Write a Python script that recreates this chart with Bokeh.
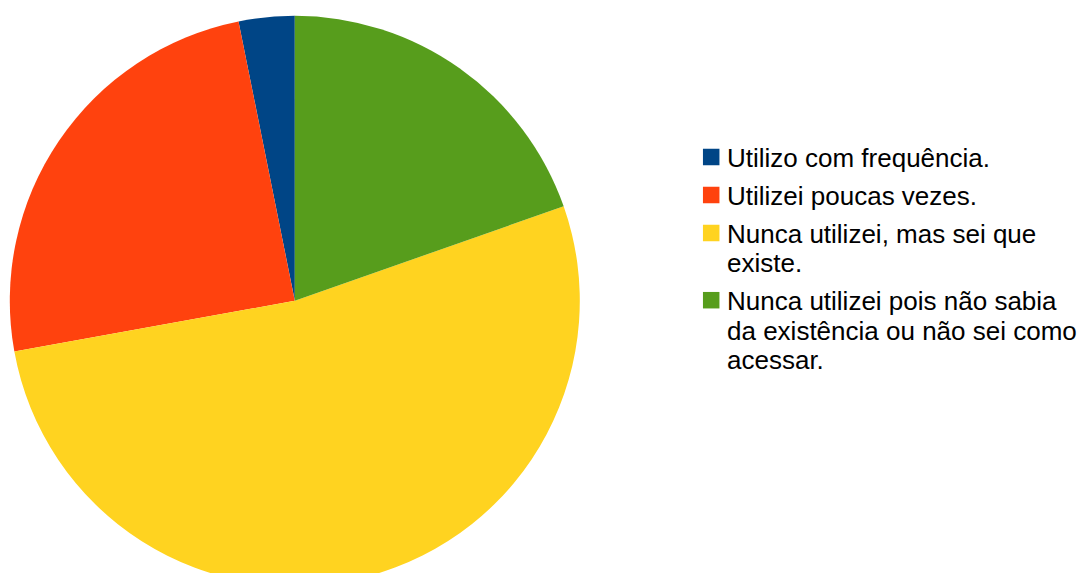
import math
from bokeh.plotting import figure
from bokeh.models import Range1d, ColumnDataSource
from bokeh.core.properties import value
from bokeh.embed import file_html
from bokeh.resources import INLINE

# ---- data ----
categories = [
    "Utilizo com frequência.",
    "Utilizei poucas vezes.",
    "Nunca utilizei, mas sei que\nexiste.",
    "Nunca utilizei pois não sabia\nda existência ou não sei como\nacessar.",
]
counts = [5, 39, 83, 31]
colors = ["#004586", "#ff420e", "#ffd320", "#579d1c"]

# ---- figure: data units equal screen pixels (y measured upward from figure bottom) ----
W, H = 1077, 573
p = figure(width=W, height=H, output_backend="svg", toolbar_location=None,
           x_range=Range1d(0, W), y_range=Range1d(0, H),
           min_border=0, outline_line_color=None, background_fill_color="white",
           border_fill_color="white")
p.axis.visible = False
p.grid.visible = False

def Y(img_y):
    return H - img_y

# ---- pie ----
cx, cy, r = 294.3, Y(300.3), 285
total = sum(counts)
starts, ends = [], []
a = math.pi / 2
for c in counts:
    starts.append(a)
    a += 2 * math.pi * c / total
    ends.append(a)
src = ColumnDataSource(dict(start=starts, end=ends, color=colors))
p.wedge(x=cx, y=cy, radius=r, start_angle="start", end_angle="end",
        direction="anticlock", fill_color="color", line_color=None, source=src)

# ---- legend (drawn manually) ----
line_h, gap = 29.3, 8.7
base = 166.0
sq_x, sq_size, txt_x = 710.7, 16.5, 726.5
text_shift = 8.5
sq_xs, sq_ys = [], []
tx, ty, tt = [], [], []
for lab in categories:
    lines = lab.split("\n")
    sq_xs.append(sq_x)
    sq_ys.append(Y(base - 9.6))
    for i, ln in enumerate(lines):
        tx.append(txt_x)
        ty.append(Y(base + i * line_h - text_shift))
        tt.append(ln)
    base += len(lines) * line_h + gap

p.rect(x=sq_xs, y=sq_ys, width=sq_size, height=sq_size, fill_color=colors, line_color=None)
p.text(x=tx, y=ty, text=tt, text_font=value("Liberation Sans"), text_font_size="26px",
       text_baseline="alphabetic", text_align="left", text_color="#000000")

open("out.html", "w").write(file_html(p, INLINE))
